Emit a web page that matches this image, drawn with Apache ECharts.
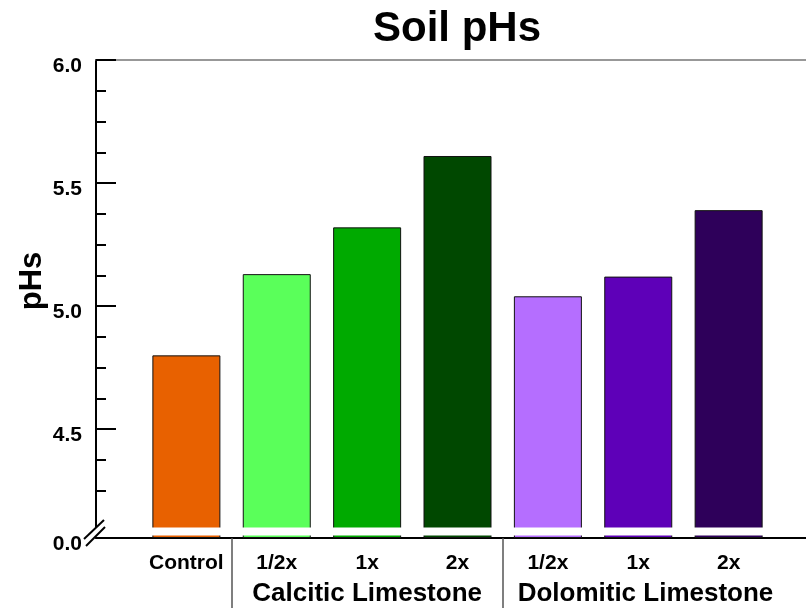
<!DOCTYPE html>
<html><head><meta charset="utf-8">
<script src="https://cdn.jsdelivr.net/npm/echarts@6/dist/echarts.min.js"></script>
<style>html,body{margin:0;padding:0;background:#fff}#c{width:806px;height:611px}</style>
</head><body><div id="c"></div>
<script>
const categories = ['Control', '1/2x', '1x', '2x', '1/2x', '1x', '2x'];
const phValues = [4.80, 5.13, 5.32, 5.61, 5.04, 5.12, 5.39];
const barColors = ['#E86100', '#5AFF5A', '#00AA00', '#004800', '#B56EFF', '#5E00B8', '#2E005A'];
const groupLabels = ['Calcitic Limestone', 'Dolomitic Limestone'];
const yLabelValues = [0, 4.5, 5.0, 5.5, 6.0];
const yMajorTicks = [4.5, 5.0, 5.5, 6.0];
const yMinorTicks = [4.25, 4.375, 4.625, 4.75, 4.875, 5.125, 5.25, 5.375, 5.625, 5.75, 5.875];
const yAxisTitle = 'pHs';

const FONT = '"Liberation Sans", Arial, sans-serif';
const axisCats = [''].concat(categories, ['']);
const barData = ['-'].concat(phValues.map((v, i) => ({ value: v, itemStyle: { color: barColors[i] } })), ['-']);
const yBreaks = [{ start: 0.012, end: 4.1, gap: 0.03 }];

const chart = echarts.init(document.getElementById('c'), null, { renderer: 'canvas' });
const yCommon = {
  type: 'value', min: 0, max: 6, breaks: yBreaks, position: 'left',
  splitLine: { show: false }
};
chart.setOption({
  animation: false,
  backgroundColor: '#fff',
  title: {
    text: 'Soil pHs', left: 368, top: 3,
    textStyle: { fontFamily: FONT, fontSize: 42, fontWeight: 'bold', color: '#000' }
  },
  grid: { left: 96, width: 723, top: 60, bottom: 73, containLabel: false, outerBoundsMode: 'none' },
  xAxis: [
    {
      type: 'category', data: axisCats, boundaryGap: false,
      axisLine: { lineStyle: { color: '#000', width: 2 } },
      axisTick: { show: false },
      axisLabel: { interval: 0, margin: 15, fontFamily: FONT, fontSize: 21, fontWeight: 'bold', color: '#000' }
    },
    {
      type: 'value', min: 0, max: 8, position: 'bottom',
      axisLine: { show: false }, splitLine: { show: false },
      axisTick: { show: true, length: 70, customValues: [1.5, 4.5], lineStyle: { color: '#555', width: 1.5 } },
      axisLabel: {
        margin: 43, customValues: [3, 6.08], fontFamily: FONT, fontSize: 26, fontWeight: 'bold', color: '#000',
        formatter: v => (v < 4.5 ? groupLabels[0] : groupLabels[1])
      }
    },
    {
      type: 'value', min: 0, max: 8, position: 'top',
      axisLine: { show: true, lineStyle: { color: '#777', width: 1.5 } },
      axisTick: { show: false }, axisLabel: { show: false }, splitLine: { show: false }
    }
  ],
  yAxis: [
    Object.assign({}, yCommon, {
      axisLine: { show: true, lineStyle: { color: '#000', width: 2 } },
      axisTick: { show: true, inside: true, length: 20, customValues: yMajorTicks, lineStyle: { color: '#000', width: 2 } },
      axisLabel: {
        customValues: yLabelValues, margin: 14, fontFamily: FONT, fontSize: 21, fontWeight: 'bold', color: '#000',
        verticalAlign: 'top', lineHeight: 12, formatter: v => v.toFixed(1)
      },
      breakArea: { show: true, itemStyle: { color: '#fff', borderWidth: 0, opacity: 1 }, zigzagAmplitude: 0 }
    }),
    Object.assign({}, yCommon, {
      axisLine: { show: false },
      axisTick: { show: true, inside: true, length: 10, customValues: yMinorTicks, lineStyle: { color: '#000', width: 2 } },
      axisLabel: { show: false },
      breakArea: { show: false }
    })
  ],
  series: [{
    type: 'bar', xAxisIndex: 0, yAxisIndex: 0, data: barData, barWidth: 68,
    itemStyle: { borderColor: '#111', borderWidth: 1 }
  }]
});

// axis-break marks on the y axis and the y-axis title
const ax = chart.convertToPixel({ xAxisIndex: 1 }, 0);
const yTop = chart.convertToPixel({ yAxisIndex: 0 }, yBreaks[0].end);
const yBot = chart.convertToPixel({ yAxisIndex: 0 }, 0);
chart.setOption({
  graphic: [
    { type: 'rect', shape: { x: ax - 3, y: yTop + 1, width: 6, height: yBot - yTop - 2 }, style: { fill: '#fff' }, z: 100 },
    { type: 'line', shape: { x1: ax - 12, y1: yBot + 1, x2: ax + 8, y2: yBot - 18 }, style: { stroke: '#000', lineWidth: 2 }, z: 101 },
    { type: 'line', shape: { x1: ax - 10, y1: yBot + 8, x2: ax + 9, y2: yBot - 11 }, style: { stroke: '#000', lineWidth: 2 }, z: 101 },
    {
      type: 'text', x: 32, y: 281, rotation: Math.PI / 2,
      style: { text: yAxisTitle, font: 'bold 31px "Liberation Sans", Arial, sans-serif', fill: '#000', align: 'center', verticalAlign: 'middle' }
    }
  ]
});
</script></body></html>
